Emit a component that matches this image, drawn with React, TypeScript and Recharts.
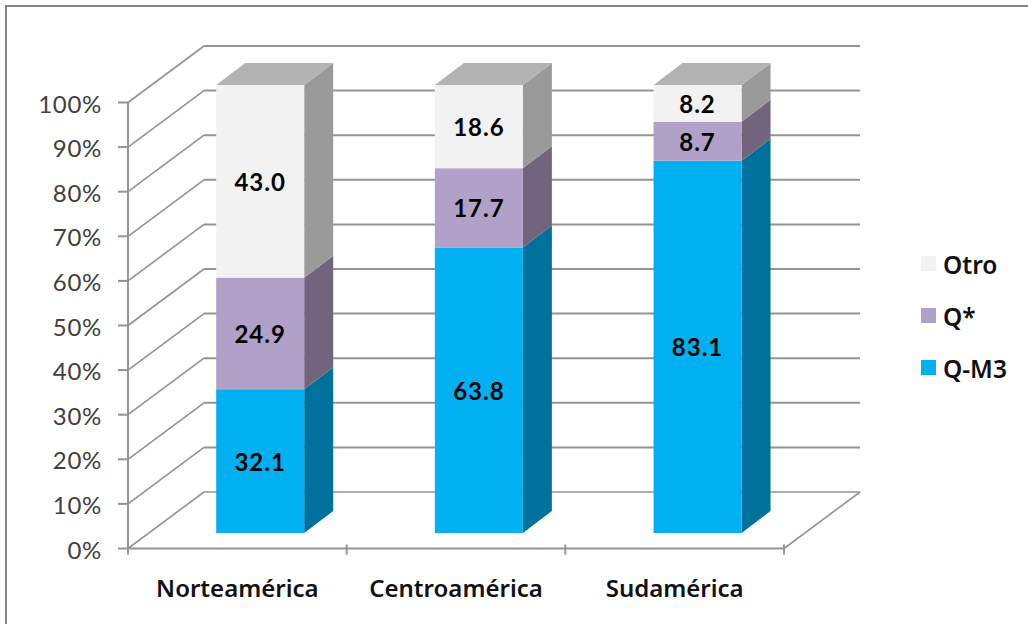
import React from 'react';
import { BarChart, Bar, XAxis, YAxis, CartesianGrid, Legend, LabelList } from 'recharts';

const categories = ['Norteamérica', 'Centroamérica', 'Sudamérica'];
const qM3 = [32.1, 63.8, 83.1];
const qStar = [24.9, 17.7, 8.7];
const otro = [43.0, 18.6, 8.2];
const yTicks = [0, 0.1, 0.2, 0.3, 0.4, 0.5, 0.6, 0.7, 0.8, 0.9, 1];

const rows = categories.map((name, i) => ({ name, qM3: qM3[i], qStar: qStar[i], otro: otro[i] }));

const W = 1028;
const H = 624;
const PLOT_LEFT = 128;
const PLOT_RIGHT = 784;
const PLOT_TOP = 102.5;
const PLOT_BOTTOM = 548.5;
const BAND = (PLOT_RIGHT - PLOT_LEFT) / categories.length;
const BAR_W = 88;
const LINE = '#949494';
const FONT = 'Lato, sans-serif';
const WIDE_FONT = '"Noto Sans", sans-serif';

// Oblique projection: how far the back wall sits from the front plane.
const WALL_DX = 76;
const WALL_DY = 56.5;
// Bars stand a little inside the floor, with their own depth.
const BAR_DX = 23.2;
const BAR_FLOOR = 533;
const BAR_SCALE = 448 / (PLOT_BOTTOM - PLOT_TOP);
const DEPTH_X = 29;
const DEPTH_Y = 22;

// Carries a y position from the front plane onto the plane the bars stand in.
const toBarPlane = (y: number) => BAR_FLOOR - (PLOT_BOTTOM - y) * BAR_SCALE;

const poly = (pts: number[][]) => pts.map((p) => p.join(',')).join(' ');

const makeBox = (side: string, top?: string) => (props: any) => {
  const { x, y, width, height, fill } = props;
  const l = x + BAR_DX;
  const r = l + width;
  const t = toBarPlane(y);
  const b = toBarPlane(y + height);
  return (
    <g>
      <polygon
        points={poly([[r, t], [r + DEPTH_X, t - DEPTH_Y], [r + DEPTH_X, b - DEPTH_Y], [r, b]])}
        fill={side}
      />
      {top && (
        <polygon
          points={poly([[l, t], [l + DEPTH_X, t - DEPTH_Y], [r + DEPTH_X, t - DEPTH_Y], [r, t]])}
          fill={top}
        />
      )}
      <rect x={l} y={t} width={width} height={b - t} fill={fill} />
    </g>
  );
};

const valueLabel = (props: any) => {
  const { x, y, width, height, value } = props;
  return (
    <text
      x={x + BAR_DX + width / 2}
      y={toBarPlane(y + height / 2)}
      textAnchor="middle"
      dominantBaseline="central"
      fontFamily={FONT}
      fontWeight={700}
      fontSize={24}
      letterSpacing={1}
      fill="#000"
    >
      {Number(value).toFixed(1)}
    </text>
  );
};

// Each gridline runs along the floor side to the back wall, then across it.
const wallLine = (props: any) => {
  const { x1, x2, y1, index } = props;
  const bx1 = x1 + WALL_DX;
  const bx2 = x2 + WALL_DX;
  const by = y1 - WALL_DY;
  const isFloor = y1 >= H - 80;
  return (
    <g key={`wall-${index}`} fill="none" stroke={LINE}>
      <line x1={x1} y1={y1} x2={bx1} y2={by} strokeWidth={1.6} />
      <line x1={bx1} y1={by} x2={bx2} y2={by} strokeWidth={isFloor ? 1.6 : 2} />
      {isFloor && <line x1={x2} y1={y1} x2={bx2} y2={by} strokeWidth={1.6} />}
    </g>
  );
};

const categoryTick = (props: any) => {
  const { x, y, payload, index } = props;
  const left = x - BAND / 2;
  const top = y - 12;
  return (
    <g>
      <line x1={left} y1={top} x2={left} y2={top + 10} stroke={LINE} strokeWidth={2} />
      {index === categories.length - 1 && (
        <line x1={left + BAND} y1={top} x2={left + BAND} y2={top + 10} stroke={LINE} strokeWidth={2} />
      )}
      <text
        x={x}
        y={587}
        textAnchor="middle"
        dominantBaseline="central"
        fontFamily={WIDE_FONT}
        fontWeight={600}
        fontSize={24}
        fill="#111"
      >
        {payload.value}
      </text>
    </g>
  );
};

const legendRows = [
  { label: 'Otro', color: '#f2f2f2', y: 264 },
  { label: 'Q*', color: '#b1a0c7', y: 316 },
  { label: 'Q-M3', color: '#00b0f0', y: 368 },
];

const legendContent = () => (
  <svg width={W} height={H} style={{ position: 'absolute', left: 0, top: 0, pointerEvents: 'none' }}>
    {legendRows.map((r) => (
      <g key={r.label}>
        <rect x={921} y={r.y - 8} width={15} height={15} fill={r.color} />
        <text
          x={943}
          y={r.y}
          dominantBaseline="central"
          fontFamily={WIDE_FONT}
          fontWeight={600}
          fontSize={24.5}
          fill="#111"
        >
          {r.label}
        </text>
      </g>
    ))}
  </svg>
);

export default function App() {
  return (
    <div style={{ position: 'absolute', left: 0, top: 0, width: W, height: H, background: '#fff', overflow: 'hidden' }}>
      <div
        style={{
          position: 'absolute',
          left: 5,
          top: 5,
          right: 0,
          bottom: 0,
          borderTop: '2.5px solid #858585',
          borderLeft: '2.5px solid #858585',
        }}
      />
      <BarChart
        width={W}
        height={H}
        data={rows}
        stackOffset="expand"
        barSize={BAR_W}
        margin={{ top: PLOT_TOP, right: W - PLOT_RIGHT, left: 0, bottom: 0 }}
        style={{ position: 'absolute', left: 0, top: 0 }}
      >
        <CartesianGrid horizontal={wallLine} vertical={false} />
        <XAxis
          dataKey="name"
          height={H - PLOT_BOTTOM}
          axisLine={{ stroke: LINE, strokeWidth: 2 }}
          tickLine={false}
          tick={categoryTick}
          interval={0}
        />
        <YAxis
          type="number"
          domain={[0, 1]}
          ticks={yTicks}
          width={PLOT_LEFT}
          interval={0}
          axisLine={{ stroke: LINE, strokeWidth: 2 }}
          tickLine={{ stroke: LINE, strokeWidth: 2 }}
          tickSize={10}
          tickMargin={16}
          letterSpacing={0.7}
          tickFormatter={(v: number) => `${Math.round(v * 100)}%`}
          tick={{ fontFamily: FONT, fontSize: 24, fill: '#404040', dy: 1.5 }}
        />
        <Legend content={legendContent} wrapperStyle={{ left: 0, top: 0, bottom: 'auto', width: 0, height: 0 }} />
        <Bar dataKey="qM3" stackId="s" fill="#00b0f0" shape={makeBox('#00709c')} isAnimationActive={false}>
          <LabelList dataKey="qM3" content={valueLabel} />
        </Bar>
        <Bar dataKey="qStar" stackId="s" fill="#b1a0c7" shape={makeBox('#72647d')} isAnimationActive={false}>
          <LabelList dataKey="qStar" content={valueLabel} />
        </Bar>
        <Bar dataKey="otro" stackId="s" fill="#f2f2f2" shape={makeBox('#9a9a9a', '#b3b3b3')} isAnimationActive={false}>
          <LabelList dataKey="otro" content={valueLabel} />
        </Bar>
      </BarChart>
    </div>
  );
}
